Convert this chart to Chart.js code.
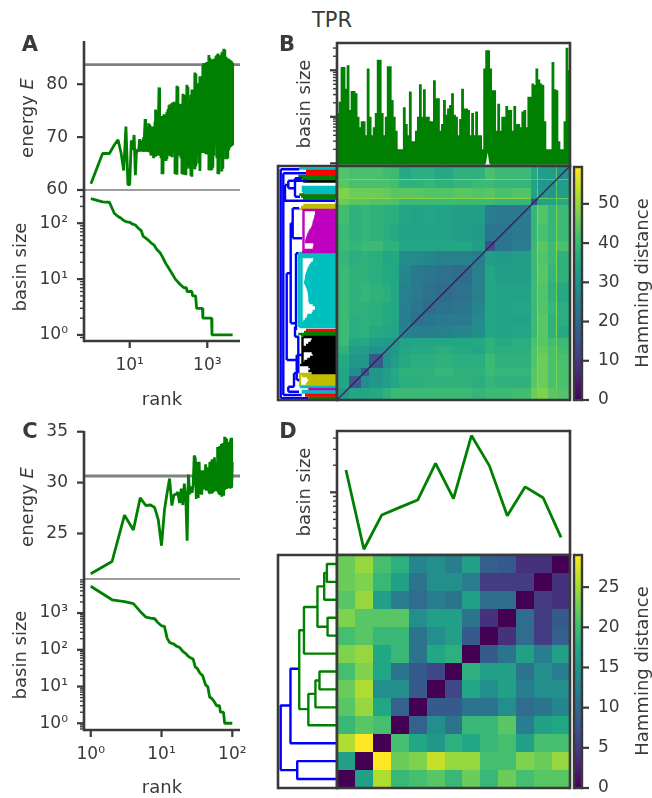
<!DOCTYPE html>
<html>
<head>
<meta charset="utf-8">
<title>TPR</title>
<script src="https://cdn.jsdelivr.net/npm/chart.js@4"></script>
<style>
    html, body { margin: 0; padding: 0; background: #fff; overflow: hidden; }
    #page { position: relative; width: 652px; height: 798px; font-family: 'DejaVu Sans', sans-serif; color: #3a3a3a; }
    #page canvas { position: absolute; display: block; }
    .label { position: absolute; white-space: nowrap; transform: translate(-50%, -50%); }
    .vertical { transform: translate(-50%, -50%) rotate(-90deg); }
</style>
</head>
<body>
<div id="page"></div>
<script>
// ========================================
// Data
// ========================================
const GREEN = '#008000';
const INK = '#3a3a3a';

// A: energy against rank, line part then dense part
const energyRanksA = [1, 2, 3, 4, 5, 6, 7, 8, 9, 10, 11, 12, 13, 14, 15, 17, 18, 19];
const energyValuesA = [61.2, 66.9, 66.9, 68.5, 69.5, 67, 63.7, 72, 61, 61, 69.4, 67.6, 70.4, 62.8, 67.6, 67.3, 69.6, 67.3];
const denseRanksA = [22, 23, 25, 26, 28, 30, 31, 33, 35, 37, 40, 42, 45, 47, 50, 53, 57, 60, 64, 68, 72, 76, 81, 86, 91, 97,
    103, 109, 116, 123, 130, 138, 147, 156, 165, 175, 186, 197, 209, 222, 236, 250, 265, 281, 298, 317,
    336, 356, 378, 401, 426, 452, 479, 509, 540, 573, 608, 645, 684, 726, 770, 817, 867, 920, 976, 1035,
    1098, 1165, 1236, 1311, 1391, 1476, 1566, 1661, 1762, 1870, 1984, 2104, 2232, 2368, 2513, 2666, 2828, 3000, 3183, 3377,
    3583, 3801, 4033, 4278, 4500];
const denseHighA = [69.5, 70, 73.4, 72.8, 71.5, 72, 72.6, 72.4, 71.5, 72, 72, 72, 73, 75.2, 75, 73.5, 79.4, 79.3, 74, 73.5, 74,
    74.3, 74.2, 74, 74.8, 75.3, 76, 76.2, 75.5, 76.5, 76, 76.7, 76, 75.8, 79.7, 79.5,
    76, 76.2, 76.3, 76.3, 78.2, 78, 76.2, 77, 79.9, 79.5, 77, 77.2, 78, 79, 78, 78.5, 82.2, 82, 80, 80.2,
    80, 81.5, 81, 81, 83.6, 84, 84, 83.8, 84.2, 84, 85.5, 85, 84.5, 84.7, 84.5, 84.8, 84.6, 85.3, 85.5, 85.8,
    85.5, 85, 85.3, 86, 86.2, 86.7, 86.5, 85.2, 85, 84.8, 84.8, 84.6, 84.5, 84.3, 84];
const denseLowA = [67.3, 67.2, 67.3, 67.4, 67.2, 67.3, 67.2, 67.1, 66.5, 66.8, 67, 66, 66.3, 66.5, 67, 66.5, 66.8, 66.5, 66, 63, 63,
    66.8, 67, 65.5, 65.8, 66.6, 67, 66.4, 66.6, 66.2, 67, 67, 63, 63.5, 62.9, 66.9,
    66.8, 66.5, 66, 63, 63, 62.9, 63.3, 62.8, 64, 65.5, 64.5, 64, 62.7, 62.5, 65, 65.3, 63.9, 64.5, 67, 66.9,
    65, 63.6, 67, 67, 67, 67, 67, 66.8, 66.7, 67, 63.8, 63.7, 63.7, 63.8, 64.2, 66.5, 68.6, 68.5, 66, 63,
    63, 66, 67.5, 63.5, 64, 68, 67.5, 65.8, 65.8, 66, 67.5, 68, 68.2, 68.3, 68.5];
const thresholdA = 83.7;

// A: basin size against rank
const basinRanksA = [1, 2, 3, 4, 5, 6, 7, 8, 10, 12, 14, 16, 18, 20, 22, 26, 30, 36, 42, 50, 60, 70, 85, 100, 120, 150, 200, 250, 290, 300, 400, 420, 500, 530, 750, 770, 1290, 1320, 4500];
const basinSizesA = [276, 240, 237, 151, 132, 123, 112, 107, 104, 96, 93, 84, 78, 73, 59, 54, 50, 44, 41, 34, 30, 25, 19, 16, 13, 10, 8, 7, 7, 6, 6, 5, 5, 3, 3, 2, 2, 1, 1];

// C: energy for ranks 1..100
const energyValuesC = [21.05, 22.25, 26.8, 25.35, 28.5, 27.75, 27.8, 27.55, 26.35, 23.8,
    27.3, 29, 30.4, 27.75, 28.8, 28.85, 29.05, 28, 29.4, 27.8,
    29.9, 28.6, 24.3, 30.8, 28.85, 29.6, 29, 29.8, 32.65, 32.4,
    28.4, 32.05, 28.5, 32.05, 29, 31.2, 28.8, 31.2, 29.3, 30.4,
    29.6, 31.8, 29.2, 31.5, 29.4, 31, 29, 32, 29.2, 32.1,
    28.9, 32.3, 29, 32.2, 29.1, 32.5, 29.6, 32, 29.3, 31.5,
    30, 33.5, 29.1, 32.8, 28.9, 33.6, 30, 33, 28.8, 33.8,
    28.6, 33, 29, 33.9, 28.7, 33.5, 29.5, 34.5, 29.4, 34.4,
    29.6, 34.3, 30, 33.3, 29.5, 32, 30, 34, 29.8, 33.4,
    29.5, 32.5, 29.5, 34.2, 29.6, 34.4, 29.5, 34.4, 29.5, 32];
const thresholdC = 30.65;

// C: basin size against rank
const basinRanksC = [1, 2, 3, 4, 5, 6, 7, 8, 9, 10, 11, 12, 13, 14, 15, 16, 18, 20, 22, 24, 26, 28, 30, 32, 35, 38, 42, 45, 48, 50, 55, 60, 66, 68, 75, 78, 100];
const basinSizesC = [5370, 2300, 2040, 1800, 1110, 780, 730, 700, 535, 450, 435, 208, 158, 150, 143, 128, 116, 90, 79, 66, 60, 56, 34, 31, 23, 20, 11, 10, 5, 5, 4, 3, 3, 2, 2, 1, 1];

// B: tallest basin in each column along the leaves, and columns that never drop to 1
const leafPeaksB = [12, 21, 118, 118, 40, 128, 14, 36, 36, 32, 10, 6, 8, 8, 4, 109, 10, 4, 6, 12, 169, 169, 12, 4, 10, 122, 122, 23, 10, 5,
    2, 2, 2, 16, 7, 4, 35, 3, 3, 5, 10, 50, 10, 39, 10, 10, 8, 8, 61, 25, 25, 5, 7, 23, 11, 15, 18, 32, 11, 10,
    4, 9, 40, 15, 15, 14, 4, 12, 4, 13, 4, 4, 2, 109, 269, 269, 109, 37, 37, 5, 19, 5, 10, 10, 17, 14, 14, 5, 17, 7,
    7, 6, 13, 14, 6, 27, 27, 52, 48, 109, 63, 52, 48, 8, 2, 2, 2, 150, 39, 37, 3, 2, 2, 8, 306, 100];
const leafNotchB = [74, 75];

// D: basin size per leaf
const leafSizesD = [177, 23.3, 56, 68, 82, 210, 85, 427, 198, 55, 115, 87, 31.5];

// Hamming distances. B: blocks between these leaf edges, lower triangle, bottom row first
const heatEdgesB = [0, 36, 72, 96, 136, 160, 184, 220, 255, 290, 345, 400, 441, 470, 520, 576, 593, 597, 626, 650, 654, 692];
const heatRowsB = [
    [32],
    [35, 17],
    [35, 29, 18],
    [36, 31, 31, 17],
    [38, 33, 33, 30, 30],
    [40, 35, 36, 33, 32, 31],
    [40, 37, 38, 36, 35, 34, 26],
    [40, 37, 38, 37, 36, 35, 25, 22],
    [40, 38, 38, 37, 36, 35, 25, 23, 21],
    [40, 38, 39, 38, 37, 35, 26, 24, 22, 21],
    [40, 38, 38, 37, 36, 35, 27, 24, 23, 22, 21],
    [39, 37, 38, 37, 35, 36, 29, 28, 27, 26, 26, 25],
    [40, 39, 40, 40, 38, 38, 35, 35, 35, 35, 35, 33, 15],
    [40, 38, 39, 38, 37, 36, 34, 34, 34, 34, 33, 32, 23, 23],
    [41, 38, 39, 38, 37, 37, 35, 34, 35, 34, 33, 33, 25, 24, 24],
    [46, 44, 44, 43, 43, 42, 40, 40, 40, 40, 40, 40, 40, 39, 39, 16],
    [48, 49, 49, 49, 49, 48, 49, 49, 49, 48, 49, 49, 50, 49, 49, 30, 20],
    [48, 46, 46, 46, 45, 44, 44, 44, 43, 43, 44, 43, 44, 42, 43, 34, 46, 32],
    [44, 42, 42, 42, 42, 41, 38, 38, 39, 38, 39, 40, 40, 39, 39, 34, 44, 31, 31],
    [46, 48, 48, 48, 48, 46, 48, 48, 48, 46, 48, 48, 50, 48, 48, 42, 50, 44, 44, 20],
    [43, 42, 42, 42, 41, 40, 36, 37, 37, 36, 38, 38, 42, 40, 40, 36, 46, 33, 33, 44, 30]
];

// D: full matrix, bottom row first
const heatEdgesD = [0, 1, 2, 3, 4, 5, 6, 7, 8, 9, 10, 11, 12, 13];
const heatRowsD = [
    [0, 16, 25, 19, 20, 21, 19, 22, 19, 22, 20, 21, 21],
    [16, 0, 29, 22, 23, 26, 24, 24, 20, 20, 23, 22, 24],
    [25, 29, 0, 20, 17, 15, 18, 17, 19, 20, 16, 20, 20],
    [19, 21, 20, 0, 9, 14, 11, 19, 19, 21, 12, 16, 17],
    [21, 24, 17, 9, 0, 8, 8, 11, 11, 14, 10, 11, 13],
    [22, 25, 14, 14, 8, 0, 6, 17, 14, 16, 12, 14, 14],
    [20, 23, 17, 11, 8, 6, 0, 18, 16, 16, 11, 14, 12],
    [23, 24, 17, 19, 11, 17, 18, 0, 8, 11, 16, 12, 16],
    [20, 21, 19, 19, 11, 14, 16, 8, 0, 4, 10, 5, 8.5],
    [23, 21, 21, 21, 14, 16, 16, 11, 4, 0, 10, 5, 8],
    [21, 24, 16, 12, 10, 12, 11, 16, 10, 10, 0, 5, 4],
    [22, 23, 19, 16, 11, 14, 14, 12, 5, 5, 5, 0, 4],
    [22, 24, 20, 18, 13, 14, 12, 16, 8.5, 8, 4, 4, 0]
];

// B: dendrogram, clusters as [leaf, distance] rows plus [d1, y1, d2, y2] stems
const treeLinksB = [
    [56.3, 1.7, 56.3, 230.7], [56.3, 230.7, 37.7, 230.7], [56.3, 1.7, 28.7, 1.7],
    [53.7, 5, 53.7, 226.7], [53.7, 226.7, 31, 226.7], [53.7, 5, 35.3, 5],
    [53.7, 199.3, 2, 199.3], [52, 199.3, 52, 215], [52, 215, 48.7, 215],
    [48.7, 211.7, 48.7, 219.3], [48.7, 219.3, 30.3, 219.3], [48.7, 211.7, 42, 211.7],
    [42, 203.3, 42, 221.7], [42, 221.7, 35.3, 221.7], [42, 203.3, 37, 203.3],
    [44.3, 161.7, 44.3, 191.7], [44.3, 191.7, 38, 191.7], [44.3, 161.7, 35, 161.7],
    [46.3, 76.7, 46.3, 176.7], [46.3, 176.7, 44.3, 176.7], [46.3, 76.7, 41, 76.7],
    [50.3, 40, 50.3, 126.7], [50.3, 126.7, 46.3, 126.7], [50.3, 40, 38.7, 40],
    [41, 70, 41, 146.7], [41, 146.7, 38.7, 146.7], [42, 63.3, 42, 73.3], [42, 63.3, 38, 63.3],
    [38.7, 26.7, 38.7, 63.3], [40.3, 20, 40.3, 45], [40.3, 45, 35, 45], [40.3, 20, 37.7, 20],
    [43, 13.3, 43, 26.7], [43, 26.7, 40.3, 26.7], [48.7, 8.3, 48.7, 13.3], [48.7, 13.3, 43, 13.3], [48.7, 8.3, 38, 8.3]
];
const magentaRowsB = [[190, 34.7], [188, 22], [186, 22], [184, 22.7], [182, 23], [180, 23.7], [178, 24.3], [176, 24.7], [174, 25.3], [172, 26.3], [170, 27.7], [168, 28.7], [166, 29.7], [164, 30.3], [162, 31], [160, 31.7], [158, 32], [156, 23.7], [154, 23.7], [152, 24.3], [150, 33], [148, 35]];
const magentaStemsB = [[33.5, 148, 33.5, 190]];
const cyanRowsB = [[147, 38.7], [145, 38.7], [143, 38.3], [141, 23.7], [139, 24.3], [137, 26.3], [135, 27.7], [133, 28.7], [131, 29.7], [129, 30.3], [127, 31], [125, 31.7], [123, 32], [121, 32.3], [119, 32.7], [117, 33], [115, 32], [113, 31], [111, 30.3], [109, 29.7], [107, 29.3], [105, 29], [103, 28.7], [101, 28.7], [99, 28.7], [97, 27.7], [95, 24.3], [93, 22], [91, 22], [89, 24.3], [87, 25.3], [85, 29.7], [83, 30.3], [81, 32], [79, 33.7], [77, 35], [75, 36.3], [73, 37.7],
    [231.5, 37.7], [213, 35.3], [211, 35.3], [209, 35.3], [207, 33], [13, 37], [9, 35.3], [7.5, 35.3]];
const cyanStemsB = [[38, 73, 38, 147], [35.5, 73, 35.5, 147]];
const blackRowsB = [[63, 33.7], [61, 25.3], [59, 26.3], [57, 28.7], [55, 31], [53, 33.7], [51, 34.3], [49, 35.3], [47, 25.3], [45, 24.3], [43, 27], [41, 29.7], [39, 32.7], [37, 35], [35, 37], [33, 28.7], [31, 27], [29, 28.7], [27, 25.3], [218.5, 33.7]];
const blackStemsB = [[34.5, 35, 34.5, 63]];
const oliveRowsB = [[26, 37.7], [24, 35], [22, 30], [20, 28.7], [18, 29.7], [16, 31], [14, 37.7], [195, 33.7], [193, 36], [191, 38.7]];
const oliveStemsB = [[37, 14, 37, 26]];
const redRowsB = [[230, 31], [228, 31], [226, 31], [207, 33.7], [70, 31], [6, 32], [4.5, 32]];
const greenRowsB = [[224, 38.7], [222, 36], [220, 34], [205.5, 37.7], [203.5, 36], [201.5, 34], [68, 33], [66, 38.7], [64.5, 36], [2.5, 28.7], [1, 28.7]];
const magentaSmallRowsB = [[11, 28.7]];

// D: dendrogram links, leaves 0..12, distance 0 at the heatmap
const treeGreenD = [
    [0, 12, 30, 12, 30, 11, 0, 11],
    [30, 11.5, 38, 11.5, 38, 10, 0, 10],
    [0, 9, 28, 9, 28, 8, 0, 8],
    [38, 10.75, 58, 10.75, 58, 8.5, 28, 8.5],
    [58, 9.6, 98, 9.6, 98, 7, 0, 7],
    [0, 6, 52, 6, 52, 5, 0, 5],
    [52, 5.5, 64, 5.5, 64, 4, 0, 4],
    [64, 4.75, 85, 4.75, 85, 3, 0, 3],
    [98, 8.3, 112, 8.3, 112, 3.9, 85, 3.9]
];
const treeBlueD = [
    [112, 6.15, 138, 6.15, 138, 2, 0, 2],
    [0, 1, 118, 1, 118, 0, 0, 0],
    [138, 4.1, 167, 4.1, 167, 0.5, 118, 0.5]
];

// Tick labels
const rankTicksA = [10, 1000];
const rankTicksC = [1, 10, 100];
const POWER_LABELS = { 1: '10⁰', 10: '10¹', 100: '10²', 1000: '10³' };
const energyTicksA = [60, 70, 80];
const energyTicksC = [25, 30, 35];
const hammingTicksB = [0, 10, 20, 30, 40, 50];
const hammingTicksD = [0, 5, 10, 15, 20, 25];
const viridisStops = ['#440154', '#482475', '#414487', '#355f8d', '#2a788e', '#21918c', '#22a884', '#44bf70', '#7ad151', '#bddf26', '#fde725'];

// ========================================
// Helpers
// ========================================
const page = document.getElementById('page');

function viridis(t) {
    const pos = Math.min(Math.max(t, 0), 1) * (viridisStops.length - 1);
    const i = Math.min(Math.floor(pos), viridisStops.length - 2);
    const f = pos - i;
    const a = parseInt(viridisStops[i].slice(1), 16);
    const b = parseInt(viridisStops[i + 1].slice(1), 16);
    const mix = shift => Math.round(((a >> shift) & 255) * (1 - f) + ((b >> shift) & 255) * f);
    return `rgb(${mix(16)},${mix(8)},${mix(0)})`;
}

function addText(html, x, y, size, vertical, bold) {
    const el = document.createElement('div');
    el.className = 'label' + (vertical ? ' vertical' : '');
    el.style.left = x + 'px';
    el.style.top = y + 'px';
    el.style.fontSize = size + 'px';
    if (bold) el.style.fontWeight = 'bold';
    el.innerHTML = html;
    page.appendChild(el);
}

function isDecade(value) {
    return Math.abs(Math.log10(value) - Math.round(Math.log10(value))) < 1e-6;
}

function keepLogTicks(scale) {
    scale.ticks = scale.ticks.filter(t => {
        if (t.value <= scale.min || t.value >= scale.max) return false;
        const m = t.value / Math.pow(10, Math.floor(Math.log10(t.value) + 1e-9));
        return Math.abs(m - Math.round(m)) < 1e-6;
    });
}

function segments(links) {
    const points = [];
    links.forEach(l => {
        points.push({ x: l[0], y: l[1] }, { x: l[2], y: l[3] }, { x: null, y: null });
    });
    return points;
}

function clusterPoints(rows, stems) {
    const links = rows.map(r => [0, r[0], r[1], r[0]]);
    return segments(links.concat(stems || []));
}

function treeLine(links) {
    const points = [];
    links.forEach(l => {
        for (let i = 0; i < l.length; i += 2) points.push({ x: l[i], y: l[i + 1] });
        points.push({ x: null, y: null });
    });
    return points;
}

// Spines and tick marks, tick lengths differ for minor log ticks
const framePlugin = {
    id: 'frame',
    afterDatasetsDraw(chart, args, opts) {
        const { ctx, chartArea: a } = chart;
        ctx.save();
        ctx.strokeStyle = INK;
        ctx.lineCap = 'butt';
        [chart.scales.x, chart.scales.y].forEach(scale => {
            if (!scale || !scale.options.display) return;
            scale.ticks.forEach(t => {
                const major = scale.type !== 'logarithmic' || isDecade(t.value);
                const len = major ? 7 : 4;
                const p = scale.getPixelForValue(t.value);
                ctx.lineWidth = major ? 2.2 : 1.4;
                ctx.beginPath();
                if (scale.axis === 'x') {
                    ctx.moveTo(p, a.bottom);
                    ctx.lineTo(p, a.bottom + len);
                } else if (scale.position === 'right') {
                    ctx.moveTo(a.right, p);
                    ctx.lineTo(a.right + len, p);
                } else {
                    ctx.moveTo(a.left, p);
                    ctx.lineTo(a.left - len, p);
                }
                ctx.stroke();
            });
        });
        const line = (width, x1, y1, x2, y2) => {
            if (!width) return;
            ctx.lineWidth = width;
            ctx.beginPath();
            ctx.moveTo(x1, y1);
            ctx.lineTo(x2, y2);
            ctx.stroke();
        };
        line(opts.left, a.left, a.top - (opts.top ? 1.2 : 0), a.left, a.bottom + 1.2);
        line(opts.right, a.right, a.top - (opts.top ? 1.2 : 0), a.right, a.bottom + 1.2);
        line(opts.top, a.left, a.top, a.right, a.top);
        line(opts.bottom, a.left, a.bottom, a.right, a.bottom);
        ctx.restore();
    }
};

// Heatmap cells, placed with the chart's own scales
const heatPlugin = {
    id: 'heat',
    beforeDatasetsDraw(chart, args, opts) {
        if (!opts.edges) return;
        const { ctx, scales: { x, y } } = chart;
        const e = opts.edges;
        for (let i = 0; i < e.length - 1; i++) {
            for (let j = 0; j < e.length - 1; j++) {
                const value = j < opts.rows[i].length ? opts.rows[i][j] : opts.rows[j][i];
                const x0 = Math.round(x.getPixelForValue(e[j]));
                const x1 = Math.round(x.getPixelForValue(e[j + 1]));
                const y0 = Math.round(y.getPixelForValue(e[i + 1]));
                const y1 = Math.round(y.getPixelForValue(e[i]));
                ctx.fillStyle = viridis(value / opts.max);
                ctx.fillRect(x0, y0, x1 - x0, y1 - y0);
            }
        }
    }
};

// Colour bar, gradient follows the value axis
const barPlugin = {
    id: 'colorBar',
    beforeDatasetsDraw(chart, args, opts) {
        if (!opts.max) return;
        const { ctx, chartArea: a, scales: { y } } = chart;
        const g = ctx.createLinearGradient(0, y.getPixelForValue(0), 0, y.getPixelForValue(opts.max));
        viridisStops.forEach((c, i) => g.addColorStop(i / (viridisStops.length - 1), c));
        ctx.fillStyle = g;
        ctx.fillRect(a.left, a.top, a.right - a.left, a.bottom - a.top);
    }
};

Chart.register(framePlugin, heatPlugin, barPlugin);
Chart.defaults.font.family = "'DejaVu Sans', sans-serif";

// Tick labels may overhang into the margins, so the scale asks for no extra room
function noScalePadding(s) {
    s.paddingTop = 0;
    s.paddingBottom = 0;
    s.paddingLeft = 0;
    s.paddingRight = 0;
}

// The plot area lands exactly on rect, the margins hold ticks and labels
function makeChart(rect, margins, datasets, scales, plugins) {
    const canvas = document.createElement('canvas');
    canvas.width = rect.r - rect.l + margins.l + margins.r;
    canvas.height = rect.b - rect.t + margins.t + margins.b;
    canvas.style.left = (rect.l - margins.l) + 'px';
    canvas.style.top = (rect.t - margins.t) + 'px';
    page.appendChild(canvas);

    const xShown = scales.x.display !== false;
    const yShown = scales.y.display !== false;
    const yRight = scales.y.position === 'right';
    scales.x.afterFit = s => {
        s.height = xShown ? margins.b : 0;
        noScalePadding(s);
    };
    scales.y.afterFit = s => {
        s.width = yShown ? (yRight ? margins.r : margins.l) : 0;
        noScalePadding(s);
    };

    return new Chart(canvas, {
        type: 'line',
        data: { datasets },
        options: {
            responsive: false,
            animation: false,
            devicePixelRatio: 1,
            events: [],
            layout: {
                padding: {
                    left: yShown && !yRight ? 0 : margins.l,
                    right: yShown && yRight ? 0 : margins.r,
                    top: margins.t,
                    bottom: xShown ? 0 : margins.b
                }
            },
            scales,
            plugins: Object.assign({ legend: { display: false }, tooltip: { enabled: false }, title: { display: false } }, plugins)
        }
    });
}

function axisStyle(extra) {
    return Object.assign({
        grid: { display: false, drawTicks: false },
        border: { display: false },
        ticks: { color: INK, font: { size: 17 }, padding: 16, autoSkip: false, maxRotation: 0 }
    }, extra);
}

function powerTicks(padding) {
    return { color: INK, font: { size: 17 }, padding, autoSkip: false, maxRotation: 0, callback: v => POWER_LABELS[v] || '' };
}

function fixedTicks(list) {
    return s => { s.ticks = list.map(v => ({ value: v })); };
}

function lineSet(points, color, width) {
    return {
        data: points, borderColor: color, borderWidth: width, pointRadius: 0, fill: false,
        tension: 0, spanGaps: false, borderJoinStyle: 'bevel', parsing: false, normalized: false
    };
}

// ========================================
// Left column
// ========================================
function zigzag(ranks, highs, lows) {
    const points = [];
    ranks.forEach((r, i) => {
        points.push({ x: r, y: highs[i] }, { x: r, y: lows[i] });
    });
    return points;
}

function energyPanel(rect, points, threshold, yRange, ticks, xRange) {
    makeChart(rect, { l: 84, r: 20, t: 14, b: 14 }, [
        lineSet(points, GREEN, 2.8),
        lineSet([{ x: xRange[0], y: threshold }, { x: xRange[1], y: threshold }], '#808080', 2.8)
    ], {
        x: { type: 'logarithmic', display: false, min: xRange[0], max: xRange[1] },
        y: axisStyle({ type: 'linear', min: yRange[0], max: yRange[1], afterBuildTicks: fixedTicks(ticks) })
    }, { frame: { left: 2.6, bottom: 1.2 } });
}

function basinPanel(rect, ranks, sizes, yRange, xRange, xTicks) {
    makeChart(rect, { l: 84, r: 24, t: 14, b: 44 }, [
        lineSet(ranks.map((r, i) => ({ x: r, y: sizes[i] })), GREEN, 2.8)
    ], {
        x: axisStyle({
            type: 'logarithmic', min: xRange[0], max: xRange[1],
            afterBuildTicks: fixedTicks(xTicks), ticks: powerTicks(14)
        }),
        y: axisStyle({
            type: 'logarithmic', min: yRange[0], max: yRange[1],
            afterBuildTicks: keepLogTicks, ticks: powerTicks(16)
        })
    }, { frame: { left: 2.6, bottom: 2.6 } });
}

const rangeXA = [0.664, 6966];
const rangeXC = [0.803, 128.5];

const densePointsA = energyRanksA.map((r, i) => ({ x: r, y: energyValuesA[i] })).concat(zigzag(denseRanksA, denseHighA, denseLowA));
energyPanel({ l: 84, r: 240, t: 41, b: 190 }, densePointsA, thresholdA, [60, 88.17], energyTicksA, rangeXA);
basinPanel({ l: 84, r: 240, t: 190, b: 341 }, basinRanksA, basinSizesA, [0.78, 393], rangeXA, rankTicksA);

energyPanel({ l: 84, r: 240, t: 431, b: 579 }, energyValuesC.map((e, i) => ({ x: i + 1, y: e })), thresholdC, [20.53, 35.07], energyTicksC, rangeXC);
basinPanel({ l: 84, r: 240, t: 579, b: 730 }, basinRanksC, basinSizesC, [0.656, 8450], rangeXC, rankTicksC);

// ========================================
// Right column
// ========================================
function topPanel(rect, points, xRange, yRange) {
    makeChart(rect, { l: 20, r: 6, t: 6, b: 6 }, [lineSet(points, GREEN, 2.8)], {
        x: { type: 'linear', display: false, min: xRange[0], max: xRange[1] },
        y: axisStyle({
            type: 'logarithmic', min: yRange[0], max: yRange[1], afterBuildTicks: keepLogTicks,
            ticks: { display: false }
        })
    }, { frame: { left: 2.6, right: 2.6, top: 2.6, bottom: 2.6 } });
}

function treePanel(rect, datasets, xMax, yRange) {
    makeChart(rect, { l: 6, r: 6, t: 6, b: 6 }, datasets, {
        x: { type: 'linear', display: false, reverse: true, min: 0, max: xMax },
        y: { type: 'linear', display: false, min: yRange[0], max: yRange[1] }
    }, { frame: { left: 2.6, right: 2.6, top: 2.6, bottom: 2.6 } });
}

function heatPanel(rect, edges, rows, max, diagonal) {
    const last = edges[edges.length - 1];
    const sets = diagonal ? [lineSet([{ x: 0, y: 0 }, { x: last, y: last }], 'rgba(68,1,84,0.75)', 1.4)] : [];
    makeChart(rect, { l: 6, r: 6, t: 6, b: 6 }, sets, {
        x: { type: 'linear', display: false, min: 0, max: last },
        y: { type: 'linear', display: false, min: 0, max: last }
    }, { heat: { edges, rows, max }, frame: { left: 2.6, right: 2.6, top: 2.6, bottom: 2.6 } });
}

function colorBarPanel(rect, max, ticks) {
    makeChart(rect, { l: 4, r: 50, t: 12, b: 12 }, [], {
        x: { type: 'linear', display: false, min: 0, max: 1 },
        y: axisStyle({ type: 'linear', position: 'right', min: 0, max, afterBuildTicks: fixedTicks(ticks) })
    }, { colorBar: { max }, frame: { left: 2.4, right: 2.4, top: 2.4, bottom: 2.4 } });
}

// B
const leafPointsB = [];
leafPeaksB.forEach((peak, i) => {
    const low = leafNotchB.includes(i) ? 2 : 1;
    leafPointsB.push({ x: i, y: low }, { x: i, y: peak }, { x: i, y: low });
});
topPanel({ l: 337, r: 570, t: 43, b: 166 }, leafPointsB, [-0.5, 115.5], [0.877, 385]);

treePanel({ l: 278, r: 337, t: 166, b: 400 }, [
    lineSet(segments(treeLinksB), '#0000ff', 2.4),
    lineSet(clusterPoints(magentaRowsB.concat(magentaSmallRowsB), magentaStemsB), '#bf00bf', 2.4),
    lineSet(clusterPoints(cyanRowsB, cyanStemsB), '#00bfbf', 2.4),
    lineSet(clusterPoints(blackRowsB, blackStemsB), '#000000', 2.4),
    lineSet(clusterPoints(oliveRowsB, oliveStemsB), '#bfbf00', 2.4),
    lineSet(clusterPoints(redRowsB), '#ff0000', 2.4),
    lineSet(clusterPoints(greenRowsB), GREEN, 2.4)
], 59, [0, 234]);
heatPanel({ l: 337, r: 570, t: 166, b: 400 }, heatEdgesB, heatRowsB, 59.4, true);
colorBarPanel({ l: 574, r: 582, t: 167, b: 400 }, 59.4, hammingTicksB);

// D
topPanel({ l: 337, r: 570, t: 431, b: 555 }, leafSizesD.map((s, i) => ({ x: i, y: s })), [-0.5, 12.5], [20.1, 480]);
treePanel({ l: 278, r: 337, t: 555, b: 788 }, [
    lineSet(treeLine(treeGreenD), GREEN, 2.4),
    lineSet(treeLine(treeBlueD), '#0000ff', 2.4)
], 175, [-0.5, 12.5]);
heatPanel({ l: 337, r: 570, t: 555, b: 788 }, heatEdgesD, heatRowsD, 28.5, false);
colorBarPanel({ l: 574, r: 582, t: 555, b: 788 }, 29, hammingTicksD);

// ========================================
// Labels
// ========================================
addText('TPR', 332, 20, 21);
addText('A', 30, 44, 21, false, true);
addText('B', 287, 44, 21, false, true);
addText('C', 30, 431, 21, false, true);
addText('D', 288, 431, 21, false, true);
addText('energy <i>E</i>', 25.5, 118, 18, true);
addText('energy <i>E</i>', 25.5, 507, 18, true);
addText('basin size', 18.5, 267, 18, true);
addText('basin size', 18.5, 655, 18, true);
addText('rank', 162, 398, 18);
addText('rank', 162, 786, 18);
addText('basin size', 303, 104, 18, true);
addText('basin size', 303, 492, 18, true);
addText('Hamming distance', 641, 283, 18, true);
addText('Hamming distance', 641, 671, 18, true);
</script>
</body>
</html>
